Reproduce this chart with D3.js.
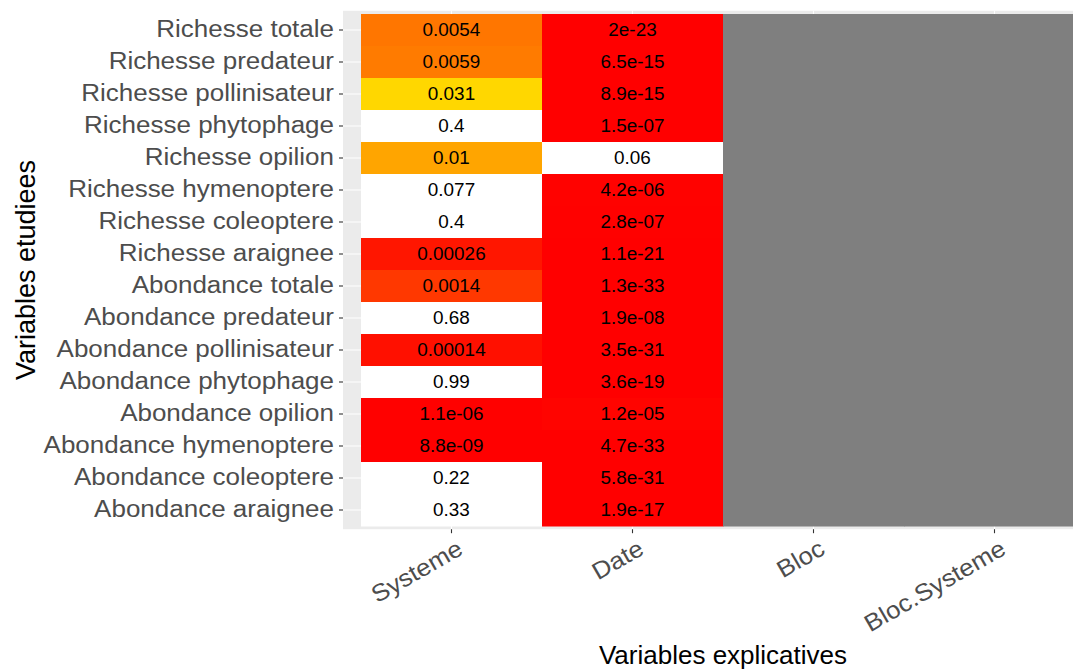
<!DOCTYPE html>
<html><head><meta charset="utf-8">
<script src="https://cdn.jsdelivr.net/npm/d3@7"></script>
<style>body{margin:0;background:#fff;} svg{display:block;font-family:"Liberation Sans",Arial,sans-serif;}</style>
</head><body><svg id="c" width="1073" height="670"></svg>
<script>
const rows = ["Richesse totale","Richesse predateur","Richesse pollinisateur","Richesse phytophage","Richesse opilion","Richesse hymenoptere","Richesse coleoptere","Richesse araignee","Abondance totale","Abondance predateur","Abondance pollinisateur","Abondance phytophage","Abondance opilion","Abondance hymenoptere","Abondance coleoptere","Abondance araignee"];
const cols = ["Systeme","Date","Bloc","Bloc.Systeme"];
const systeme = [0.0054,0.0059,0.031,0.4,0.01,0.077,0.4,0.00026,0.0014,0.68,0.00014,0.99,1.1e-06,8.8e-09,0.22,0.33];
const date = [2e-23,6.5e-15,8.9e-15,1.5e-07,0.06,4.2e-06,2.8e-07,1.1e-21,1.3e-33,1.9e-08,3.5e-31,3.6e-19,1.2e-05,4.7e-33,5.8e-31,1.9e-17];
const bloc = rows.map(() => null);
const blocSysteme = rows.map(() => null);
const series = [systeme, date, bloc, blocSysteme];

const svg = d3.select("#c");
const x = d3.scaleBand().domain(cols).range([361, 1085]).padding(0);
const y = d3.scaleBand().domain(rows).range([14, 526]).padding(0);
const pL = 343, pR = 1103, pT = 10.8, pB = 529.2;

const fill = d3.scalePow().exponent(0.55).domain([0, 0.01, 0.031]).range(["#FF0000", "#FFA500", "#FFD700"]).clamp(true);
function color(p){ if(p===null) return "#7F7F7F"; if(p>0.05) return "#FFFFFF"; return fill(p); }
function fmt(p){ if(p<1e-4){ let s=p.toExponential(); let m=s.split("e"); let e=parseInt(m[1]); let sign=e<0?"-":"+"; let a=Math.abs(e); return m[0]+"e"+sign+(a<10?"0"+a:a);} return String(p); }
function stretch(sel, k){ sel.each(function(){ const L=this.getComputedTextLength(); d3.select(this).attr("textLength", L*k).attr("lengthAdjust","spacingAndGlyphs"); }); }

// panel background
svg.append("rect").attr("x",pL).attr("y",pT).attr("width",pR-pL).attr("height",pB-pT).attr("fill","#EBEBEB");
// grid
const g = svg.append("g");
cols.forEach(c=>{ const cx=x(c)+x.bandwidth()/2; g.append("line").attr("x1",cx).attr("x2",cx).attr("y1",pT).attr("y2",pB).attr("stroke","#fff").attr("stroke-width",1.1); });
rows.forEach(r=>{ const cy=y(r)+y.bandwidth()/2; g.append("line").attr("x1",pL).attr("x2",pR).attr("y1",cy).attr("y2",cy).attr("stroke","#fff").attr("stroke-width",1.1); });

const cells = [];
series.forEach((s,ci)=> s.forEach((v,ri)=> cells.push({col:cols[ci], row:rows[ri], v})));
svg.append("g").selectAll("rect").data(cells).join("rect")
  .attr("x",d=>x(d.col)).attr("y",d=>y(d.row))
  .attr("width",x.bandwidth()+0.5).attr("height",y.bandwidth()+0.5)
  .attr("fill",d=>color(d.v));
const ct = svg.append("g").selectAll("text").data(cells.filter(d=>d.v!==null)).join("text")
  .attr("x",d=>x(d.col)+x.bandwidth()/2).attr("y",d=>y(d.row)+y.bandwidth()/2)
  .attr("text-anchor","middle").attr("dominant-baseline","central")
  .attr("font-size",18).attr("fill","#000").text(d=>fmt(d.v));
stretch(ct, 1.05);

// y axis
const ya = svg.append("g").attr("transform",`translate(${pL},0)`).call(d3.axisLeft(y).tickSize(4).tickPadding(5));
ya.select(".domain").remove();
ya.selectAll("line").attr("stroke","#333").attr("stroke-width",1.1);
const yt = ya.selectAll("text").attr("font-size",23).attr("fill","#4D4D4D").attr("font-family","Liberation Sans, Arial, sans-serif");
stretch(yt, 1.13);

// x axis
const xa = svg.append("g").attr("transform",`translate(0,${pB})`).call(d3.axisBottom(x).tickSize(4));
xa.select(".domain").remove();
xa.selectAll("line").attr("stroke","#333").attr("stroke-width",1.1);
const xt = xa.selectAll("text").attr("font-size",24).attr("fill","#4D4D4D").attr("font-family","Liberation Sans, Arial, sans-serif")
  .attr("text-anchor","end").attr("dy",null).attr("y",0)
  .attr("transform","translate(13,24) rotate(-30)");
stretch(xt, 1.08);

svg.append("text").attr("x",(pL+pR)/2).attr("y",664).attr("text-anchor","middle").attr("font-size",26).attr("fill","#000").text("Variables explicatives");
svg.append("text").attr("transform",`translate(35,${(pT+pB)/2}) rotate(-90)`).attr("text-anchor","middle").attr("font-size",27).attr("fill","#000").text("Variables etudiees");
</script></body></html>
